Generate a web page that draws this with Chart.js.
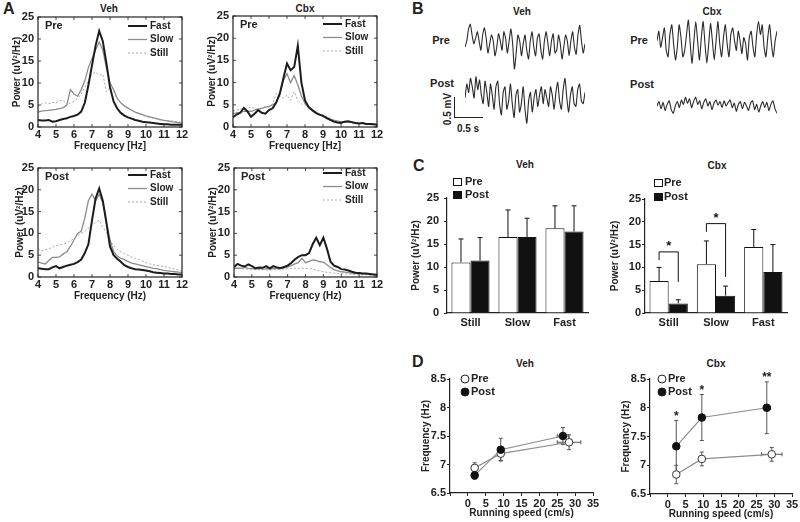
<!DOCTYPE html>
<html>
<head>
<meta charset="utf-8">
<title>Theta power and frequency, Veh vs Cbx</title>
<script src="https://cdn.jsdelivr.net/npm/chart.js@4.4.1/dist/chart.umd.min.js"></script>
<style>
  body { margin: 0; width: 800px; height: 522px; background: #fff; position: relative; overflow: hidden;
         font-family: "Liberation Sans", Arial, sans-serif; color: #222; }
  .lbl { position: absolute; font-weight: bold; font-size: 10px; transform: translate(-50%, -50%); white-space: nowrap; }
  .big { position: absolute; font-weight: bold; font-size: 16px; line-height: 16px; }
  .bar { position: absolute; background: #222; }
</style>
</head>
<body>
<div class="big" style="left:3px;top:1px">A</div>
<div class="big" style="left:412px;top:1px">B</div>
<div class="big" style="left:413px;top:158px">C</div>
<div class="big" style="left:412px;top:354px">D</div>

<div class="lbl" style="left:109px;top:8px">Veh</div>
<div class="lbl" style="left:305px;top:8px">Cbx</div>
<div class="lbl" style="left:522px;top:11px">Veh</div>
<div class="lbl" style="left:712px;top:11px">Cbx</div>
<div class="lbl" style="left:525px;top:164px">Veh</div>
<div class="lbl" style="left:717px;top:165px">Cbx</div>
<div class="lbl" style="left:525px;top:363px">Veh</div>
<div class="lbl" style="left:716px;top:363px">Cbx</div>

<div class="lbl" style="left:441px;top:40px;font-size:11px">Pre</div>
<div class="lbl" style="left:442px;top:83px;font-size:11px">Post</div>
<div class="lbl" style="left:639px;top:40px;font-size:11px">Pre</div>
<div class="lbl" style="left:642px;top:84px;font-size:11px">Post</div>

<div class="bar" style="left:454px;top:97px;width:1px;height:21px"></div>
<div class="bar" style="left:454px;top:117px;width:29px;height:1px"></div>
<div class="lbl" style="left:447px;top:109px;transform:translate(-50%,-50%) rotate(-90deg)">0.5 mV</div>
<div class="lbl" style="left:468px;top:128px">0.5 s</div>

<script>
Chart.defaults.font.family = '"Liberation Sans", Arial, sans-serif';
Chart.defaults.font.size = 10;
Chart.defaults.font.weight = 'bold';
Chart.defaults.color = '#222';
Chart.defaults.animation = false;
Chart.defaults.responsive = false;
Chart.defaults.plugins.legend.display = false;
Chart.defaults.plugins.tooltip.enabled = false;

// ---- A: power spectra, 4-12 Hz ----
var freq = [4.0, 4.2, 4.4, 4.6, 4.8, 5.0, 5.2, 5.4, 5.6, 5.8,
            6.0, 6.2, 6.4, 6.6, 6.8, 7.0, 7.2, 7.4, 7.6, 7.8,
            8.0, 8.2, 8.4, 8.6, 8.8, 9.0, 9.2, 9.4, 9.6, 9.8,
            10.0, 10.2, 10.4, 10.6, 10.8, 11.0, 11.2, 11.4, 11.6, 11.8, 12.0];

var vehPreFast = [1.6, 1.5, 1.5, 1.6, 1.2, 1.3, 1.6, 1.8, 2.0, 2.3,
                  2.5, 2.8, 3.5, 5.5, 9.5, 14, 18.5, 21.8, 19.5, 14.5,
                  9, 5.8, 4.2, 3.2, 2.6, 2.2, 1.9, 1.6, 1.4, 1.2,
                  1.1, 1.0, 0.9, 0.8, 0.7, 0.6, 0.6, 0.5, 0.5, 0.5, 0.5];
var vehPreSlow = [3.4, 3.6, 3.7, 3.8, 3.9, 4.0, 4.2, 4.4, 5.0, 8.5,
                  7.5, 7.0, 8.5, 10.5, 13.5, 15.5, 17.5, 19.3, 17.5, 13.5,
                  10.0, 8.5, 6.5, 5.5, 4.8, 4.3, 3.8, 3.4, 3.1, 2.8,
                  2.5, 2.3, 2.1, 1.9, 1.7, 1.5, 1.4, 1.2, 1.1, 1.0, 0.9];
var vehPreStill = [4.5, 5.2, 5.5, 5.3, 5.6, 5.5, 6.0, 6.1, 5.0, 5.5,
                   5.8, 6.5, 7.5, 9.0, 10.5, 12.0, 12.5, 11.8, 12.0, 8.0,
                   9.0, 8.0, 6.5, 5.5, 4.8, 4.3, 3.8, 3.4, 3.0, 2.7,
                   2.4, 2.2, 2.0, 1.8, 1.6, 1.5, 1.5, 1.4, 1.3, 1.2, 1.1];

var cbxPreFast = [2.2, 2.8, 3.2, 4.3, 3.5, 2.3, 3.0, 3.8, 3.2, 3.0,
                  3.8, 4.2, 5.5, 7.5, 11.0, 14.3, 12.8, 13.5, 18.3, 10.0,
                  6.0, 4.5, 3.8, 3.2, 2.8, 2.5, 2.0, 1.6, 1.2, 1.0,
                  0.9, 1.2, 1.3, 1.1, 0.9, 0.8, 0.9, 0.7, 0.7, 0.6, 0.5];
var cbxPreSlow = [3.0, 3.2, 3.3, 3.5, 3.6, 3.5, 3.8, 4.0, 4.2, 4.5,
                  4.6, 5.0, 5.5, 7.5, 10.5, 12.0, 10.0, 11.6, 9.5, 7.0,
                  5.3, 4.5, 3.8, 3.2, 2.8, 2.5, 2.2, 1.8, 1.5, 1.3,
                  1.2, 1.1, 1.2, 1.0, 0.9, 0.8, 0.8, 0.7, 0.7, 0.6, 0.6];
var cbxPreStill = [3.6, 3.8, 4.0, 4.2, 4.3, 4.5, 4.2, 4.0, 4.3, 4.6,
                   4.5, 5.2, 7.5, 7.0, 6.5, 7.2, 6.0, 8.0, 6.0, 5.2,
                   5.0, 4.5, 4.0, 3.5, 3.0, 2.7, 2.4, 2.0, 1.6, 1.4,
                   1.2, 1.1, 1.0, 0.9, 0.9, 0.8, 0.8, 0.7, 0.7, 0.6, 0.6];

var vehPostFast = [2.0, 1.9, 1.8, 1.8, 2.2, 2.5, 2.0, 2.3, 2.6, 2.8,
                   3.0, 3.4, 4.0, 5.5, 7.5, 13.0, 18.0, 20.3, 17.5, 12.5,
                   7.0, 5.0, 4.2, 3.5, 2.7, 2.3, 2.0, 1.8, 1.7, 1.6,
                   1.5, 1.3, 1.1, 1.0, 0.9, 0.8, 0.8, 0.7, 0.7, 0.6, 0.6];
var vehPostSlow = [3.5, 3.2, 3.0, 3.8, 4.5, 4.5, 4.6, 5.3, 5.8, 7.0,
                   8.5, 10.0, 10.5, 13.5, 17.5, 19.0, 17.5, 19.0, 17.0, 12.5,
                   8.5, 5.8, 4.8, 4.3, 4.0, 3.6, 3.2, 3.0, 2.8, 2.6,
                   2.4, 2.2, 2.0, 1.9, 1.7, 1.5, 1.4, 1.3, 1.2, 1.1, 1.0];
var vehPostStill = [6.5, 6.0, 6.2, 6.5, 6.8, 7.2, 7.4, 7.5, 7.8, 8.3,
                    8.8, 9.5, 10.0, 10.5, 11.2, 12.0, 12.5, 13.0, 11.5, 10.2,
                    8.5, 7.2, 6.3, 5.8, 5.3, 5.0, 4.6, 4.3, 4.0, 3.6,
                    3.3, 3.0, 2.8, 2.7, 2.5, 2.4, 2.2, 2.0, 1.8, 1.6, 1.4];

var cbxPostFast = [2.3, 3.0, 2.6, 2.4, 2.9, 2.5, 2.0, 2.2, 2.1, 2.5,
                   2.0, 2.5, 2.2, 2.0, 2.3, 2.6, 3.2, 4.0, 4.6, 5.0,
                   5.0, 5.5, 7.5, 9.0, 7.3, 9.0, 6.5, 3.5, 2.6, 2.3,
                   1.8, 1.7, 1.5, 1.2, 1.0, 0.9, 0.8, 0.8, 0.7, 0.6, 0.5];
var cbxPostSlow = [2.0, 2.1, 2.0, 2.2, 2.0, 1.9, 1.8, 1.9, 1.8, 1.9,
                   1.8, 2.0, 1.9, 2.0, 2.1, 2.3, 2.6, 3.0, 3.3, 4.3,
                   3.3, 3.6, 3.9, 3.8, 3.5, 3.4, 2.8, 2.2, 1.7, 1.4,
                   1.2, 1.1, 1.0, 0.9, 0.8, 0.8, 0.7, 0.7, 0.6, 0.6, 0.5];
var cbxPostStill = [2.0, 1.9, 1.9, 1.8, 1.8, 1.8, 1.7, 1.7, 1.7, 1.6,
                    1.6, 1.7, 1.7, 1.8, 1.8, 1.9, 1.9, 2.0, 2.0, 2.0,
                    2.0, 1.9, 1.8, 1.6, 1.4, 1.2, 1.1, 1.0, 0.9, 0.8,
                    0.8, 0.7, 0.7, 0.6, 0.6, 0.5, 0.5, 0.5, 0.4, 0.4, 0.4];

// ---- B: raw traces (mV) ----
var traceVehPre = [0.0, 0.15, 0.45, 0.57, 0.3, 0.08, 0.22, 0.38, 0.15, -0.08, 0.3, 0.48, 0.22, -0.15, 0.08, 0.3,
                   0.15, -0.22, 0.0, 0.33, 0.15, -0.08, 0.38, 0.22, -0.15, 0.15, 0.45, 0.08, -0.55, -0.15, 0.3, 0.15,
                   -0.22, 0.08, 0.3, -0.08, -0.3, 0.15, 0.38, 0.0, -0.22, 0.22, 0.33, -0.08, -0.3, 0.15, 0.38, 0.08,
                   -0.22, 0.15, 0.33, -0.15, -0.08, 0.3, 0.08, -0.3, 0.0, 0.3, 0.15, -0.22, 0.15, 0.38, 0.0, -0.18,
                   0.3, 0.54, 0.15, -0.15, 0.08];
var traceVehPost = [0.0, 0.35, 0.14, 0.49, 0.28, 0.0, 0.53, 0.21, 0.45, 0.07, -0.14, 0.42, 0.14, -0.21, 0.35, 0.07,
                    -0.28, 0.28, 0.42, -0.14, -0.42, 0.14, 0.28, -0.28, -0.07, 0.35, -0.14, -0.49, 0.07, 0.21, -0.35, -0.14,
                    0.28, -0.28, -0.63, -0.07, 0.14, -0.35, 0.0, 0.21, -0.21, 0.07, 0.28, -0.14, 0.21, 0.0, -0.21, 0.28,
                    0.07, -0.28, 0.14, 0.39, -0.07, -0.28, 0.21, 0.49, 0.0, -0.35, 0.07, 0.28, -0.14, -0.21, 0.21, 0.35,
                    -0.07, -0.14, 0.14];
var traceCbxPre = [0.08, 0.32, -0.08, 0.16, 0.4, -0.16, -0.32, 0.24, 0.48, 0.0, -0.4, -0.08, 0.48, 0.16, -0.32, -0.16,
                   0.24, 0.6, 0.0, -0.48, 0.08, 0.56, 0.08, -0.4, 0.16, 0.56, 0.0, -0.48, 0.0, 0.51, 0.08, -0.4,
                   0.08, 0.56, 0.0, -0.32, 0.16, 0.48, 0.0, -0.32, 0.24, 0.4, 0.08, -0.16, 0.32, 0.08, -0.24, 0.16,
                   0.0, -0.4, 0.16, 0.32, -0.08, -0.32, 0.24, 0.56, 0.24, 0.48, -0.08, -0.32, 0.16, 0.48, 0.0, -0.32,
                   0.08, 0.32];
var traceCbxPost = [0.0, 0.11, -0.07, 0.09, -0.11, 0.04, 0.13, -0.09, -0.18, 0.0, 0.11, -0.04, 0.15, 0.04, 0.22, 0.07,
                    0.18, -0.04, 0.11, 0.22, 0.04, 0.13, -0.07, 0.09, 0.18, 0.0, 0.11, -0.09, 0.07, 0.15, 0.02, 0.11,
                    -0.04, 0.13, 0.0, 0.09, 0.15, -0.04, 0.07, -0.13, 0.04, 0.11, -0.07, 0.09, 0.0, -0.11, 0.07, 0.13,
                    -0.09, 0.04, -0.15, 0.0, 0.11, -0.04, 0.09, -0.11, 0.04, 0.13, -0.07, -0.18];

// ---- C: mean power per speed class ----
var barCats = ['Still', 'Slow', 'Fast'];
var vehBarPre = [11.0, 16.5, 18.4];
var vehBarPost = [11.4, 16.5, 17.7];
var vehBarPreErr = [5.1, 5.9, 4.9];
var vehBarPostErr = [5.0, 4.1, 5.6];
var cbxBarPre = [7.0, 10.7, 14.5];
var cbxBarPost = [2.1, 3.8, 9.0];
var cbxBarPreErr = [3.0, 5.1, 3.8];
var cbxBarPostErr = [0.8, 2.1, 6.0];
var cbxSigCat = [0, 1];
var cbxSigLeft = [11.6, 17.8];
var cbxSigRight = [6.8, 7.9];
var cbxSigTop = [13.4, 19.6];
var cbxSigStar = [15.1, 21.1];

// ---- D: theta frequency vs running speed ----
var dVehPreX = [1.9, 9.2, 28.3];
var dVehPreY = [6.94, 7.19, 7.39];
var dVehPreXErr = [0.5, 0.7, 3.3];
var dVehPreYErr = [0.09, 0.12, 0.13];
var dVehPostX = [1.9, 9.2, 26.6];
var dVehPostY = [6.81, 7.26, 7.5];
var dVehPostXErr = [0.5, 0.6, 1.6];
var dVehPostYErr = [0.07, 0.2, 0.15];

var dCbxPreX = [2.4, 9.6, 29.3];
var dCbxPreY = [6.84, 7.11, 7.19];
var dCbxPreXErr = [0.5, 0.7, 2.9];
var dCbxPreYErr = [0.16, 0.12, 0.12];
var dCbxPostX = [2.4, 9.6, 27.9];
var dCbxPostY = [7.33, 7.83, 8.0];
var dCbxPostXErr = [0.4, 0.6, 1.0];
var dCbxPostYErr = [0.45, 0.4, 0.45];
var dCbxMarkX = [2.4, 9.6, 27.9];
var dCbxMarkY = [7.88, 8.33, 8.56];
var dCbxMarkText = ['*', '*', '**'];

var FONT = '"Liberation Sans", Arial, sans-serif';

function makeCanvas(x, y, w, h){
    var c = document.createElement('canvas');
    c.width = w;
    c.height = h;
    c.style.cssText = 'position:absolute;left:' + x + 'px;top:' + y + 'px;width:' + w + 'px;height:' + h + 'px';
    document.body.appendChild(c);
    return c;
}

function points(xs, ys){
    return xs.map(function(x, i){
        return {x: x, y: ys[i]};
    });
}

// frame, inward ticks, corner tag and line legend for the spectra
var specFrame = {
    id: 'specFrame',
    afterDatasetsDraw: function(chart, args, opts){
        var a = chart.chartArea, ctx = chart.ctx, xs = chart.scales.x, ys = chart.scales.y;
        ctx.save();
        ctx.strokeStyle = '#222';
        ctx.lineWidth = 1.2;
        ctx.strokeRect(a.left, a.top, a.right - a.left, a.bottom - a.top);
        ctx.lineWidth = 0.8;
        ctx.beginPath();
        xs.ticks.forEach(function(t){
            var px = xs.getPixelForValue(t.value);
            ctx.moveTo(px, a.bottom); ctx.lineTo(px, a.bottom - 3);
            ctx.moveTo(px, a.top); ctx.lineTo(px, a.top + 3);
        });
        ys.ticks.forEach(function(t){
            var py = ys.getPixelForValue(t.value);
            ctx.moveTo(a.left, py); ctx.lineTo(a.left + 3, py);
            ctx.moveTo(a.right, py); ctx.lineTo(a.right - 3, py);
        });
        ctx.stroke();
        ctx.fillStyle = '#222';
        ctx.textBaseline = 'middle';
        ctx.font = 'bold 11px ' + FONT;
        ctx.fillText(opts.tag, a.left + 7, a.top + opts.tagY);
        ctx.font = 'bold 10px ' + FONT;
        chart.data.datasets.forEach(function(ds, i){
            var y = a.top + opts.legY + i * 13.5;
            ctx.strokeStyle = ds.borderColor;
            ctx.lineWidth = ds.borderWidth;
            ctx.setLineDash(ds.borderDash || []);
            ctx.beginPath();
            ctx.moveTo(a.right - 54, y);
            ctx.lineTo(a.right - 35, y);
            ctx.stroke();
            ctx.setLineDash([]);
            ctx.fillText(ds.label, a.right - 32, y);
        });
        ctx.restore();
    }
};

function spectrum(box, pad, yw, tag, fast, slow, still, xTitle, legY){
    var c = makeCanvas(box[0], box[1], box[2], box[3]);
    new Chart(c, {
        type: 'scatter',
        data: {
            datasets: [
                {label: 'Fast', data: points(freq, fast), showLine: true, pointRadius: 0, borderColor: '#1c1c1c', borderWidth: 2},
                {label: 'Slow', data: points(freq, slow), showLine: true, pointRadius: 0, borderColor: '#8c8c8c', borderWidth: 1.3},
                {label: 'Still', data: points(freq, still), showLine: true, pointRadius: 0, borderColor: '#a8a8a8', borderWidth: 1, borderDash: [2, 2]}
            ]
        },
        options: {
            layout: {padding: {left: pad[0], top: pad[1], right: pad[2], bottom: 0}},
            scales: {
                x: {
                    type: 'linear', min: 4, max: 12,
                    ticks: {stepSize: 1, padding: 1, autoSkip: false, maxRotation: 0, minRotation: 0, font: {size: 11}},
                    grid: {display: false, drawTicks: false},
                    border: {display: false},
                    title: {display: true, text: xTitle, padding: 0},
                    afterFit: function(s){ s.height = 25; }
                },
                y: {
                    min: 0, max: 25,
                    ticks: {stepSize: 5, padding: 4, autoSkip: false, font: {size: 11}},
                    grid: {display: false, drawTicks: false},
                    border: {display: false},
                    title: {display: true, text: 'Power (uV²/Hz)', padding: 0},
                    afterFit: function(s){ s.width = yw; }
                }
            },
            plugins: {specFrame: {tag: tag, tagY: 9, legY: legY}}
        },
        plugins: [specFrame]
    });
}

spectrum([0, 0, 192, 152], [11, 17, 10], 27, 'Pre', vehPreFast, vehPreSlow, vehPreStill, 'Frequency [Hz]', 9);
spectrum([196, 0, 191, 152], [10, 16, 10], 27, 'Pre', cbxPreFast, cbxPreSlow, cbxPreStill, 'Frequency [Hz]', 8);
spectrum([0, 150, 192, 152], [14, 18, 10], 24, 'Post', vehPostFast, vehPostSlow, vehPostStill, 'Frequency (Hz)', 7);
spectrum([196, 150, 191, 152], [11, 18, 10], 27, 'Post', cbxPostFast, cbxPostSlow, cbxPostStill, 'Frequency (Hz)', 5);

// ---- B ----
function trace(x, y, vals){
    var c = makeCanvas(x, y, 120, 60);
    new Chart(c, {
        type: 'line',
        data: {
            labels: vals.map(function(v, i){ return i; }),
            datasets: [{data: vals, borderColor: '#2b2b2b', borderWidth: 1.1, pointRadius: 0, tension: 0.2, clip: false}]
        },
        options: {
            layout: {padding: 0},
            scales: {
                x: {display: false, offset: false},
                y: {display: false, min: -0.75, max: 0.75}
            }
        }
    });
}

trace(465, 17, traceVehPre);
trace(465, 68, traceVehPost);
trace(657, 14, traceCbxPre);
trace(657, 76, traceCbxPost);

// ---- C ----
var barExtras = {
    id: 'barExtras',
    afterDatasetsDraw: function(chart, args, opts){
        var ctx = chart.ctx, ys = chart.scales.y, a = chart.chartArea;
        ctx.save();
        ctx.strokeStyle = '#111';
        ctx.lineWidth = 1;
        chart.data.datasets.forEach(function(ds, i){
            var meta = chart.getDatasetMeta(i);
            meta.data.forEach(function(bar, j){
                var top = ys.getPixelForValue(ds.data[j] + ds.errors[j]);
                ctx.beginPath();
                ctx.moveTo(bar.x, bar.y);
                ctx.lineTo(bar.x, top);
                ctx.moveTo(bar.x - 2.5, top);
                ctx.lineTo(bar.x + 2.5, top);
                ctx.stroke();
            });
        });
        if (opts.sig){
            var m0 = chart.getDatasetMeta(0), m1 = chart.getDatasetMeta(1);
            ctx.fillStyle = '#111';
            ctx.textAlign = 'center';
            ctx.textBaseline = 'middle';
            ctx.font = 'bold 13px ' + FONT;
            opts.sig.cat.forEach(function(k, n){
                var lx = m0.data[k].x, rx = m1.data[k].x;
                var ty = ys.getPixelForValue(opts.sig.top[n]);
                ctx.beginPath();
                ctx.moveTo(lx, ys.getPixelForValue(opts.sig.left[n]));
                ctx.lineTo(lx, ty);
                ctx.lineTo(rx, ty);
                ctx.lineTo(rx, ys.getPixelForValue(opts.sig.right[n]));
                ctx.stroke();
                ctx.fillText('*', (lx + rx) / 2, ys.getPixelForValue(opts.sig.star[n]) + 2);
            });
        }
        // legend
        ctx.textAlign = 'left';
        ctx.textBaseline = 'middle';
        ctx.font = 'bold 11px ' + FONT;
        chart.data.datasets.forEach(function(ds, i){
            var y = a.top + opts.legY[i];
            ctx.fillStyle = ds.backgroundColor;
            ctx.fillRect(a.left + opts.legX[0], y - 3.5, 8, 7);
            ctx.strokeStyle = '#111';
            ctx.strokeRect(a.left + opts.legX[0] + 0.5, y - 3.5, 8, 7);
            ctx.fillStyle = '#222';
            ctx.fillText(ds.label, a.left + opts.legX[1], y);
        });
        ctx.restore();
    }
};

function bars(box, pad, yw, pre, post, preErr, postErr, tickPad, legX, legY, sig){
    var c = makeCanvas(box[0], box[1], box[2], box[3]);
    new Chart(c, {
        type: 'bar',
        data: {
            labels: barCats,
            datasets: [
                {label: 'Pre', data: pre, errors: preErr, backgroundColor: '#ffffff', borderColor: '#111', borderWidth: 1},
                {label: 'Post', data: post, errors: postErr, backgroundColor: '#111111', borderColor: '#111', borderWidth: 1}
            ]
        },
        options: {
            layout: {padding: {left: pad[0], top: pad[1], right: pad[2], bottom: 0}},
            datasets: {bar: {categoryPercentage: 0.81, barPercentage: 1.0}},
            scales: {
                x: {
                    grid: {display: false, drawTicks: false},
                    border: {display: true, color: '#222', width: 1.2},
                    ticks: {padding: 3, maxRotation: 0, font: {size: 11}},
                    afterFit: function(s){ s.height = 20; }
                },
                y: {
                    min: 0, max: 25,
                    ticks: {stepSize: 5, padding: tickPad, autoSkip: false, font: {size: 11}},
                    grid: {display: true, drawOnChartArea: false, tickLength: 3, color: '#222'},
                    border: {display: true, color: '#222', width: 1.2},
                    title: {display: true, text: 'Power (uV²/Hz)', padding: 0},
                    afterFit: function(s){ s.width = yw; }
                }
            },
            plugins: {barExtras: {legX: legX, legY: legY, sig: sig}}
        },
        plugins: [barExtras]
    });
}

bars([395, 150, 201, 183], [15, 48, 8], 37, vehBarPre, vehBarPost, vehBarPreErr, vehBarPostErr, 5, [6, 18], [-16, -3], null);
bars([600, 150, 195, 183], [9, 49, 8], 36, cbxBarPre, cbxBarPost, cbxBarPreErr, cbxBarPostErr, 1, [9, 19], [-16, -2],
     {cat: cbxSigCat, left: cbxSigLeft, right: cbxSigRight, top: cbxSigTop, star: cbxSigStar});

// ---- D ----
var speedExtras = {
    id: 'speedExtras',
    beforeDatasetsDraw: function(chart){
        var ctx = chart.ctx, xs = chart.scales.x, ys = chart.scales.y;
        ctx.save();
        ctx.strokeStyle = '#555';
        ctx.lineWidth = 1;
        chart.data.datasets.forEach(function(ds){
            ds.data.forEach(function(p, j){
                var px = xs.getPixelForValue(p.x), py = ys.getPixelForValue(p.y);
                var y1 = ys.getPixelForValue(p.y - ds.yErr[j]), y2 = ys.getPixelForValue(p.y + ds.yErr[j]);
                var x1 = xs.getPixelForValue(p.x - ds.xErr[j]), x2 = xs.getPixelForValue(p.x + ds.xErr[j]);
                ctx.beginPath();
                ctx.moveTo(px, y1); ctx.lineTo(px, y2);
                ctx.moveTo(px - 2, y1); ctx.lineTo(px + 2, y1);
                ctx.moveTo(px - 2, y2); ctx.lineTo(px + 2, y2);
                ctx.moveTo(x1, py); ctx.lineTo(x2, py);
                ctx.moveTo(x1, py - 2); ctx.lineTo(x1, py + 2);
                ctx.moveTo(x2, py - 2); ctx.lineTo(x2, py + 2);
                ctx.stroke();
            });
        });
        ctx.restore();
    },
    afterDatasetsDraw: function(chart, args, opts){
        var ctx = chart.ctx, xs = chart.scales.x, ys = chart.scales.y, a = chart.chartArea;
        ctx.save();
        ctx.textBaseline = 'middle';
        ctx.font = 'bold 11px ' + FONT;
        // legend: Pre first, then Post
        [1, 0].forEach(function(i, n){
            var ds = chart.data.datasets[i];
            var cx = a.left + opts.legX, cy = a.top + n * 13;
            ctx.beginPath();
            ctx.arc(cx, cy, 4, 0, Math.PI * 2);
            ctx.fillStyle = ds.pointBackgroundColor;
            ctx.fill();
            ctx.strokeStyle = '#222';
            ctx.lineWidth = 1;
            ctx.stroke();
            ctx.fillStyle = '#222';
            ctx.fillText(ds.label, cx + 6, cy);
        });
        if (opts.marks){
            ctx.textAlign = 'center';
            ctx.font = 'bold 12px ' + FONT;
            opts.marks.x.forEach(function(x, k){
                ctx.fillText(opts.marks.text[k], xs.getPixelForValue(x), ys.getPixelForValue(opts.marks.y[k]) + 2);
            });
        }
        ctx.restore();
    }
};

function speed(box, pad, pre, post, legX, marks){
    var c = makeCanvas(box[0], box[1], box[2], box[3]);
    new Chart(c, {
        type: 'scatter',
        data: {
            datasets: [
                {label: 'Post', data: points(post.x, post.y), xErr: post.xErr, yErr: post.yErr, showLine: true,
                 borderColor: '#8c8c8c', borderWidth: 1.2, pointRadius: 3.8,
                 pointBackgroundColor: '#111111', pointBorderColor: '#111', pointBorderWidth: 1},
                {label: 'Pre', data: points(pre.x, pre.y), xErr: pre.xErr, yErr: pre.yErr, showLine: true,
                 borderColor: '#8c8c8c', borderWidth: 1.2, pointRadius: 3.8,
                 pointBackgroundColor: '#ffffff', pointBorderColor: '#333', pointBorderWidth: 1}
            ]
        },
        options: {
            layout: {padding: {left: pad[0], top: pad[1], right: pad[2], bottom: 0}},
            scales: {
                x: {
                    type: 'linear', min: -5, max: 35,
                    ticks: {stepSize: 5, padding: 1, autoSkip: false, maxRotation: 0, minRotation: 0, font: {size: 11},
                            callback: function(v){ return v < 0 ? '' : String(v); }},
                    grid: {display: true, drawOnChartArea: false, tickLength: 3, color: '#222'},
                    border: {display: true, color: '#222', width: 1.2},
                    title: {display: true, text: 'Running speed (cm/s)', padding: 0},
                    afterFit: function(s){ s.height = 26; }
                },
                y: {
                    min: 6.5, max: 8.5,
                    ticks: {stepSize: 0.5, padding: 1, autoSkip: false, font: {size: 11},
                            callback: function(v){ return String(v); }},
                    grid: {display: true, drawOnChartArea: false, tickLength: 3, color: '#222'},
                    border: {display: true, color: '#222', width: 1.2},
                    title: {display: true, text: 'Frequency (Hz)', padding: 0},
                    afterFit: function(s){ s.width = 30; }
                }
            },
            plugins: {speedExtras: {legX: legX, marks: marks}}
        },
        plugins: [speedExtras]
    });
}

speed([395, 350, 208, 169], [25, 29, 10],
      {x: dVehPreX, y: dVehPreY, xErr: dVehPreXErr, yErr: dVehPreYErr},
      {x: dVehPostX, y: dVehPostY, xErr: dVehPostXErr, yErr: dVehPostYErr}, 15, null);
speed([600, 350, 200, 170], [20, 29, 8],
      {x: dCbxPreX, y: dCbxPreY, xErr: dCbxPreXErr, yErr: dCbxPreYErr},
      {x: dCbxPostX, y: dCbxPostY, xErr: dCbxPostXErr, yErr: dCbxPostYErr}, 12,
      {x: dCbxMarkX, y: dCbxMarkY, text: dCbxMarkText});
</script>
</body>
</html>
